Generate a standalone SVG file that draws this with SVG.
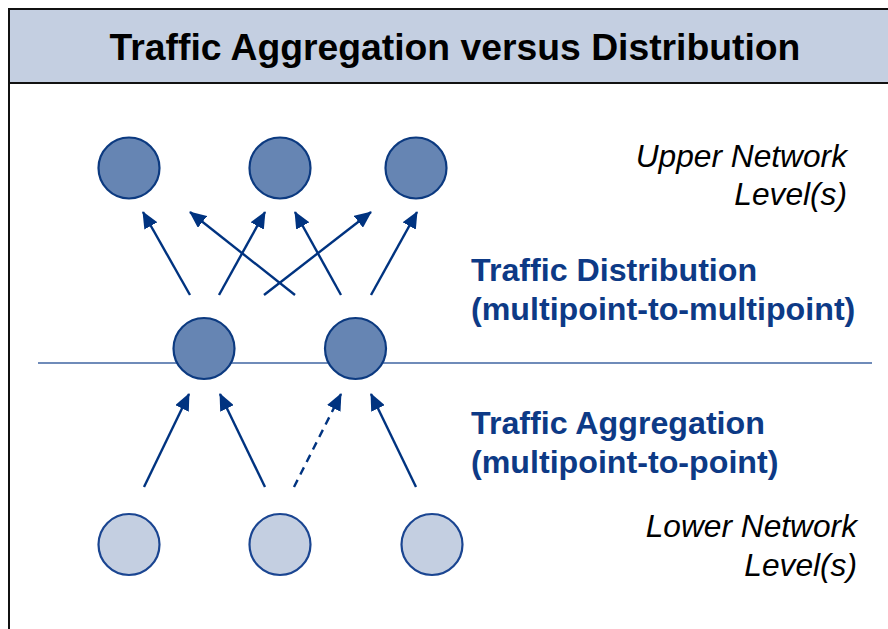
<svg xmlns="http://www.w3.org/2000/svg" width="888" height="629" viewBox="0 0 888 629">
  <defs>
    <style>
      .frame { fill: none; stroke: #111111; stroke-width: 2; }
      .header { fill: #c4cfe1; stroke: #111111; stroke-width: 2; }
      .title { font-family: "Liberation Sans", Arial, sans-serif; font-weight: bold; font-size: 37.3px; fill: #000000; }
      .level { font-family: "Liberation Sans", Arial, sans-serif; font-style: italic; font-size: 31.7px; fill: #000000; }
      .flow { font-family: "Liberation Sans", Arial, sans-serif; font-weight: bold; font-size: 32.2px; fill: #0d3a86; }
      .upper { fill: #6685b3; stroke: #0c3a80; stroke-width: 2.2; }
      .lower { fill: #c4cfe1; stroke: #1a4591; stroke-width: 2.2; }
      .divider { stroke: #6f8bb9; stroke-width: 2; }
      .arrow { stroke: #003380; stroke-width: 2.4; fill: none; marker-end: url(#head); }
      .dashed { stroke-dasharray: 8 6; }
    </style>
    <marker id="head" viewBox="0 0 17 15" refX="16" refY="7.5" markerUnits="userSpaceOnUse" markerWidth="17" markerHeight="15" orient="auto">
      <path d="M0,0 L17,7.5 L0,15 Z" fill="#003380"/>
    </marker>
  </defs>

  <rect width="888" height="629" fill="#ffffff"/>

  <!-- outer frame and title bar -->
  <path class="frame" d="M9,629 L9,9 L892,9"/>
  <rect class="header" x="9" y="9" width="883" height="74"/>
  <text class="title" x="455" y="60" text-anchor="middle">Traffic Aggregation versus Distribution</text>

  <!-- level boundary -->
  <line class="divider" x1="38" y1="363" x2="872" y2="363"/>

  <!-- connectors -->
  <g id="connectors">
    <line class="arrow" x1="190" y1="295" x2="143" y2="212"/>
    <line class="arrow" x1="295" y1="295" x2="190" y2="212"/>
    <line class="arrow" x1="219" y1="295" x2="265" y2="212"/>
    <line class="arrow" x1="341" y1="295" x2="295" y2="212"/>
    <line class="arrow" x1="264" y1="295" x2="371" y2="212"/>
    <line class="arrow" x1="371" y1="295" x2="417" y2="212"/>
    <line class="arrow" x1="144" y1="487" x2="189" y2="394"/>
    <line class="arrow" x1="265" y1="487" x2="220" y2="394"/>
    <line class="arrow dashed" x1="294" y1="487" x2="341" y2="394"/>
    <line class="arrow" x1="416" y1="487" x2="371" y2="394"/>
  </g>

  <!-- upper level nodes -->
  <g id="upper-1"><circle class="upper" cx="129" cy="168" r="30.5"/></g>
  <g id="upper-2"><circle class="upper" cx="280" cy="168" r="30.5"/></g>
  <g id="upper-3"><circle class="upper" cx="416" cy="168" r="30.5"/></g>

  <!-- middle level nodes -->
  <g id="middle-1"><circle class="upper" cx="204" cy="348.5" r="30.5"/></g>
  <g id="middle-2"><circle class="upper" cx="355.5" cy="348.5" r="30.5"/></g>

  <!-- lower level nodes -->
  <g id="lower-1"><circle class="lower" cx="129" cy="544.5" r="30.5"/></g>
  <g id="lower-2"><circle class="lower" cx="280" cy="544.5" r="30.5"/></g>
  <g id="lower-3"><circle class="lower" cx="432" cy="544.5" r="30.5"/></g>

  <!-- labels -->
  <g id="label-upper">
    <text class="level" x="847" y="167" text-anchor="end">Upper Network</text>
    <text class="level" x="847" y="205" text-anchor="end">Level(s)</text>
  </g>
  <g id="label-distribution">
    <text class="flow" x="471" y="281">Traffic Distribution</text>
    <text class="flow" x="471" y="320">(multipoint-to-multipoint)</text>
  </g>
  <g id="label-aggregation">
    <text class="flow" x="471" y="434">Traffic Aggregation</text>
    <text class="flow" x="471" y="473">(multipoint-to-point)</text>
  </g>
  <g id="label-lower">
    <text class="level" x="857" y="537" text-anchor="end">Lower Network</text>
    <text class="level" x="857" y="576" text-anchor="end">Level(s)</text>
  </g>
</svg>
